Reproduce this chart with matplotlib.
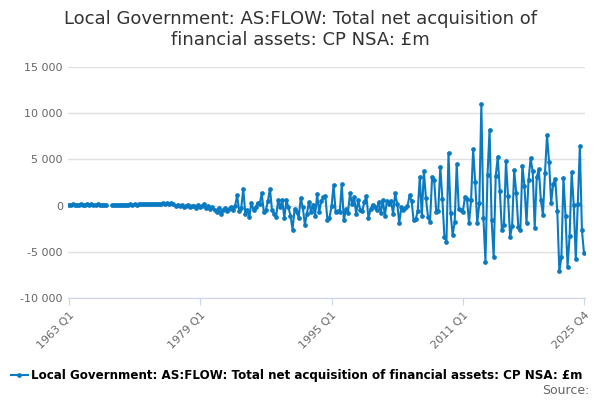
import numpy as np
import matplotlib
matplotlib.use("Agg")
import matplotlib.pyplot as plt

nan = np.nan
seg1 = [100,80,120,100,90,110,130,100,90,120,110,140,100,90,120,100,80,110,90,
        nan,nan,
        50,80,60,90,70,100,80,110,90,120,100,130,110,140,120,150,130,160,140,170,150,180,160,200,170,220,180,250,200,300,
        150,0,100,-100,50,-200,0,100,-200,-100,0,-300,100,
        -200,0,200,-300,-100,-400,-200,-500,-700,-300,-900,-500,-300,-600,-400,-200,-500,-100,1100,-600,-300,1800,-900,-500,-1200,300]
seg2 = [-500,-200,300,200,1300,-700,-500,500,1800,-500,-900,-1200,600,-200,600,-1400,600,-200,-1100,-2600,
        -400,-700,-1300,800,-200,-2100,-900,400,-700,100,-1100,1200,-700,500,900,1000,-1600,-1300,-100,2200,
        -700,-600,-700,2300,-1600,-400,-800,1300,200,900,-900,600,-500,-600,400,1000,-1400,-400,100,-200,
        -500,400,-800,600,-1100,500,200,500,-900,1300,200,-1900,-200,-500,-300,-100,1100,500,-1600,-1500,
        -600,3100]
seg3 = [-1100,3700,800,-1200,-1800,3100,2800,-650,-550,4200,700,-3400,-3900,5700,-800,-3200,-1800,4500,-400,-500,
        -650,900,700,-1900,600,6100,2500,-1900,250,11000,-1300,-6100,3300,8200,-1600,-5600,3200,5300,1600,-2600,
        -2100,4800,1000,-3400,-2200,3800,1400,-2300,-2600,4300,2100,-1900,2800,5100,3700,-2400,3100,3900,600,-1000,
        3500,7600,4700,300,2300,2900,-600,-7100,-5600,3000,-1100,-6600,-3300,3600,100,-5800,200,6400,-2700,-5100]
values = np.array(seg1 + seg2 + seg3, dtype=float)
n = len(values)
labels = [f"{1963 + i // 4} Q{i % 4 + 1}" for i in range(n)]
tick_labels = ["1963 Q1", "1979 Q1", "1995 Q1", "2011 Q1", "2025 Q4"]
tick_pos = [labels.index(t) if t in labels else n - 1 for t in tick_labels]

fig = plt.figure(figsize=(6, 4), dpi=100)
ax = fig.add_axes([0.113, 0.255, 0.862, 0.578])
color = "#0a7bc2"
x = np.arange(n)
ax.plot(x, values, color=color, lw=1.5, marker="o", ms=2.4)
ax.set_ylim(-10000, 15000)
ax.set_yticks([-10000, -5000, 0, 5000, 10000, 15000])
ax.set_yticklabels(["-10 000", "-5 000", "0", "5 000", "10 000", "15 000"], color="#666666", fontsize=8)
ax.set_xlim(-0.5, n - 0.5)
ax.set_xticks(tick_pos)
ax.set_xticklabels(tick_labels, rotation=45, ha="right", rotation_mode="anchor", color="#666666", fontsize=8)
ax.grid(axis="y", color="#e0e0e0", lw=1)
ax.set_axisbelow(True)
for s in ["top", "right", "left"]:
    ax.spines[s].set_visible(False)
ax.spines["bottom"].set_color("#ccd6eb")
ax.tick_params(axis="y", length=0)
ax.tick_params(axis="x", color="#ccd6eb", length=5)

fig.suptitle("Local Government: AS:FLOW: Total net acquisition of\nfinancial assets: CP NSA: £m",
             x=0.5, y=0.975, fontsize=13, color="#333333")
fig.legend(handles=[plt.Line2D([], [], color=color, lw=1.5, marker="o", ms=2.4)],
           labels=["Local Government: AS:FLOW: Total net acquisition of financial assets: CP NSA: £m"],
           loc="center", bbox_to_anchor=(0.495, 0.062), frameon=False,
           handlelength=1.4, handletextpad=0.3, prop={"weight": "bold", "size": 8.6})
fig.text(0.982, 0.008, "Source:", ha="right", va="bottom", fontsize=9, color="#666666")
fig.savefig("out.png", dpi=100)
